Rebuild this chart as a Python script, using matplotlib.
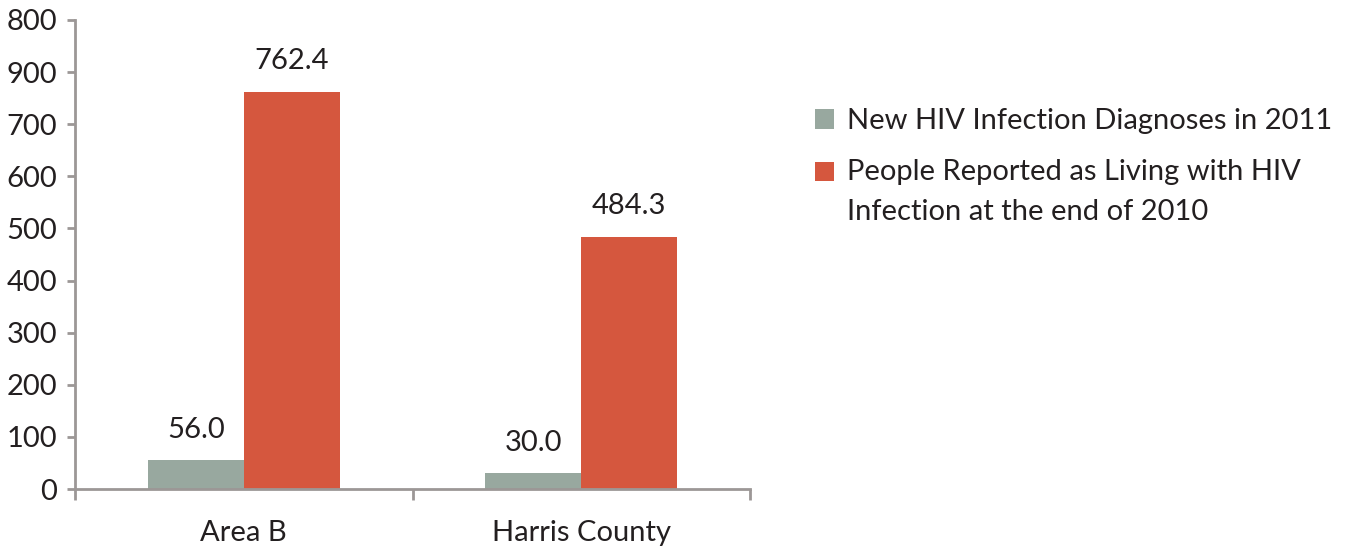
import numpy as np
import matplotlib
matplotlib.use("Agg")
from matplotlib import pyplot as plt

plt.rcParams['font.family'] = ['Lato', 'DejaVu Sans']

categories = ["Area B", "Harris County"]
new_diag = [56.0, 30.0]
living = [762.4, 484.3]
series_names = ["New HIV Infection Diagnoses in 2011",
                "People Reported as Living with HIV\nInfection at the end of 2010"]
ytick_pos = [0, 100, 200, 300, 400, 500, 600, 700, 800, 900]
ytick_lbl = ["0", "100", "200", "300", "400", "500", "600", "700", "900", "800"]

gray = "#98a89f"
red = "#d5573e"
axis_col = "#9c9796"
txt_col = "#231f20"
fs = 21

fig = plt.figure(figsize=(13.54, 5.46), dpi=100)
ax = fig.add_axes([75/1354, 57/546, 675/1354, 469/546])

x = np.arange(len(categories))
w = 0.284
b1 = ax.bar(x - w/2, new_diag, w, color=gray, label=series_names[0])
b2 = ax.bar(x + w/2, living, w, color=red, label=series_names[1])

for bars, vals in ((b1, new_diag), (b2, living)):
    for r, v in zip(bars, vals):
        ax.annotate("%.1f" % v, (r.get_x() + r.get_width()/2, v),
                    xytext=(0, 16), textcoords="offset points",
                    ha="center", va="baseline", fontsize=fs, color=txt_col)

ax.set_xlim(-0.5, 1.5)
ax.set_ylim(0, 900)
ax.set_yticks(ytick_pos)
ax.set_yticklabels(ytick_lbl)
ax.set_xticks(x)
ax.set_xticklabels(categories)
ax.set_xticks([-0.5, 0.5, 1.5], minor=True)

for s in ["top", "right"]:
    ax.spines[s].set_visible(False)
for s in ["left", "bottom"]:
    ax.spines[s].set_color(axis_col)
    ax.spines[s].set_linewidth(2)

ax.tick_params(axis="y", length=6, width=2, color=axis_col, labelsize=fs,
               labelcolor=txt_col, pad=7)
ax.tick_params(axis="x", which="major", length=0, labelsize=fs,
               labelcolor=txt_col, pad=22)
ax.tick_params(axis="x", which="minor", length=8, width=2, color=axis_col)

leg = ax.legend(loc="upper left", bbox_to_anchor=(789/1354, 1 - 82/546),
                bbox_transform=fig.transFigure, frameon=False, fontsize=fs,
                handlelength=0.65, handleheight=0.65, handletextpad=0.45,
                labelspacing=0.85, labelcolor=txt_col)
for t in leg.get_texts():
    t.set_linespacing(1.65)
# square of the two-line entry sits beside its first line
h = leg.legend_handles[1]
h.set_y(h.get_y() + 15)

plt.savefig("out.png", dpi=100)
plt.close()
